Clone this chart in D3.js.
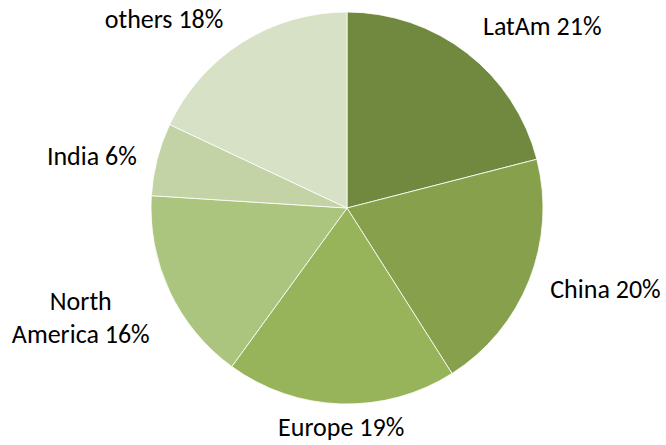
<!DOCTYPE html>
<html>
<head>
<meta charset="utf-8">
<script src="https://cdn.jsdelivr.net/npm/d3@7"></script>
<style>
  html, body { margin: 0; padding: 0; background: #fff; }
  svg { display: block; }
</style>
</head>
<body>
<svg id="chart"></svg>
<script>
// data
const regions = ["LatAm", "China", "Europe", "North\nAmerica", "India", "others"];
const shares = [21, 20, 19, 16, 6, 18];
const sliceColors = ["#71893F", "#86A04B", "#98B45A", "#ABC47E", "#C3D3A5", "#D7E1C5"];

// label nudges from the mid-angle anchor (px)
const labelNudge = [[42, 16], [26, -11], [2, -31], [-40, 3], [-13, 10], [-49, 22]];

const width = 666, height = 445;
const cx = 347, cy = 208, radius = 196;

const svg = d3.select("#chart")
  .attr("width", width)
  .attr("height", height);

const rows = regions.map((r, i) => ({ name: r, value: shares[i], color: sliceColors[i], i: i }));

const pie = d3.pie().sort(null).value(d => d.value);
const arc = d3.arc().innerRadius(0).outerRadius(radius);
const labelArc = d3.arc().innerRadius(250).outerRadius(250);

const g = svg.append("g").attr("transform", "translate(" + cx + "," + cy + ")");

g.selectAll("path")
  .data(pie(rows))
  .enter()
  .append("path")
  .attr("d", arc)
  .attr("fill", d => d.data.color)
  .attr("stroke", "#fff")
  .attr("stroke-width", 0.8);

// labels
const lbl = g.selectAll("text")
  .data(pie(rows))
  .enter()
  .append("text")
  .attr("transform", d => {
    const c = labelArc.centroid(d);
    const n = labelNudge[d.data.i];
    return "translate(" + (c[0] + n[0]) + "," + (c[1] + n[1]) + ")";
  })
  .attr("text-anchor", "middle")
  .attr("font-family", "Carlito, Calibri, Lato, sans-serif")
  .attr("font-size", "26px")
  .attr("fill", "#000");

lbl.each(function(d) {
  const lines = (d.data.name + " " + d.data.value + "%").split("\n");
  const t = d3.select(this);
  const lh = 32.7;
  lines.forEach((ln, k) => {
    t.append("tspan")
      .attr("x", 0)
      .attr("y", (k - (lines.length - 1) / 2) * lh + 9)
      .text(ln);
  });
});
</script>
</body>
</html>
